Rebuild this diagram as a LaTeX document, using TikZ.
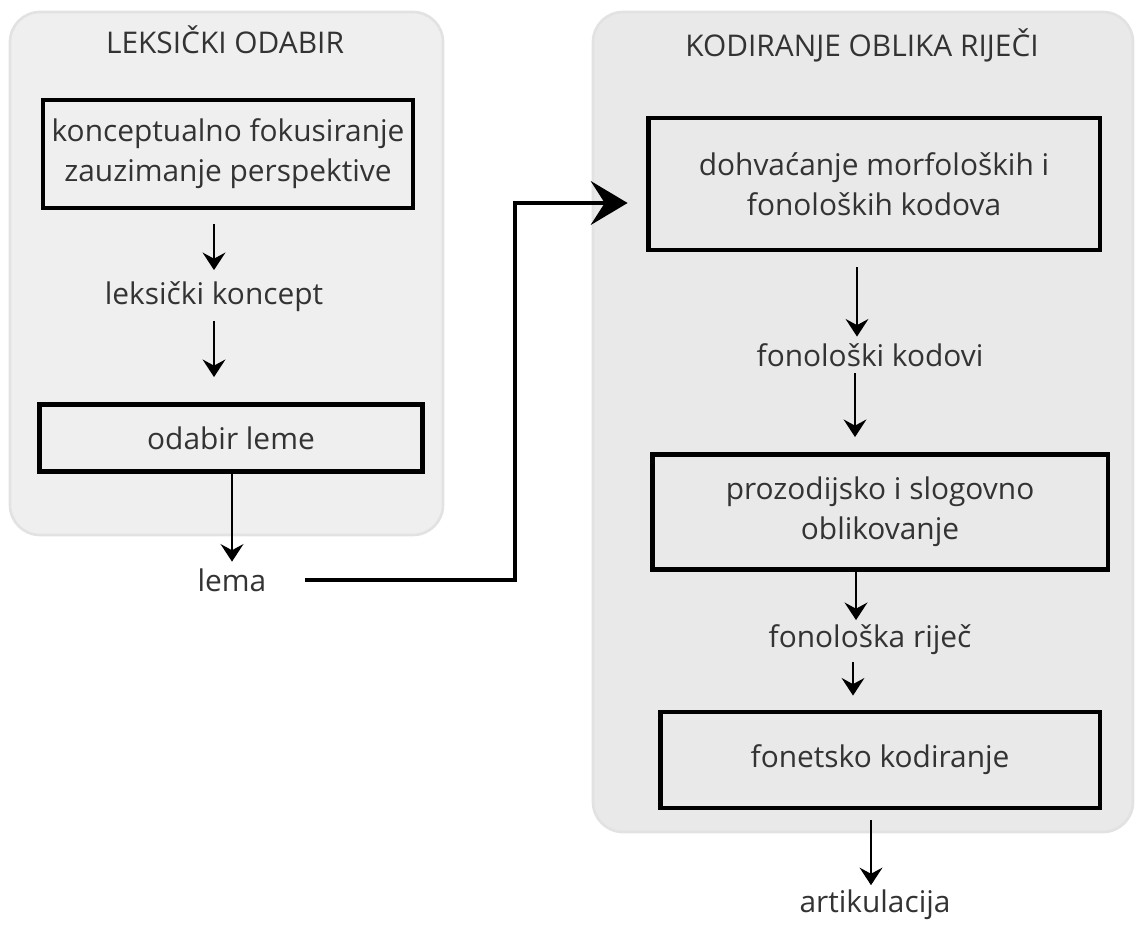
\documentclass[tikz,border=0pt]{standalone}
\usepackage{fontspec}
\setmainfont{Open Sans}
\usetikzlibrary{arrows.meta}
\definecolor{panelgray}{HTML}{EFEFEF}
\definecolor{panelgrayb}{HTML}{E9E9E9}
\definecolor{panelline}{HTML}{E2E2E2}
\definecolor{txtgray}{HTML}{333333}
\tikzset{
	panel/.style={fill=#1, draw=panelline, line width=1.5pt, rounded corners=0.6cm},
	stagebox/.style={draw=black, line width=2.8pt, fill=none, align=center, text=txtgray, inner sep=2pt},
	label/.style={text=txtgray, inner sep=2pt},
	arr/.style={-{Stealth[length=10pt,width=13pt,inset=3.5pt]}, line width=1.1pt},
	bigarr/.style={-{Stealth[length=21pt,width=25pt,inset=8pt]}, line width=1.9pt},
}
\begin{document}
\begin{tikzpicture}[x=0.02cm, y=-0.02cm, font=\fontsize{17}{22.7}\selectfont]
			\useasboundingbox (0,0) rectangle (1135,926);
			% panels
			\draw[panel=panelgray] (10,12) rectangle (443,535);
			\draw[panel=panelgrayb] (593,12) rectangle (1133,832);
			\node[label] (tl) at (225,40){LEKSIČKI ODABIR};
			\node[label] (tr) at (862,45){KODIRANJE OBLIKA RIJEČI};
			
			% left column
			\node[stagebox, minimum width=7.4cm, minimum height=2.16cm] (fok) at (228,154){konceptualno fokusiranje\\zauzimanje perspektive};
			\node[label] (koncept) at (214,297){leksički koncept};
			\node[stagebox, minimum width=7.66cm, minimum height=1.34cm] (odabir) at (231,438){odabir leme};
			\node[label] (lema) at (232,580){lema};
			\draw[arr, shorten <=0.28cm, shorten >=0.16cm] (fok.south -| koncept.north) -- (koncept.north);
			\draw[arr, shorten <=0.1cm, shorten >=0.5cm] (koncept.south) -- (koncept.south |- odabir.north);
			\draw[arr, shorten >=0.06cm] (odabir.south -| lema.north) -- (lema.north);
			
			% right column
			\node[stagebox, minimum width=9.04cm, minimum height=2.64cm] (dohv) at (874,184){dohvaćanje morfoloških i\\fonoloških kodova};
			\node[label] (kodovi) at (870,355){fonološki kodovi};
			\node[stagebox, minimum width=9.12cm, minimum height=2.3cm] (prozod) at (880,512){prozodijsko i slogovno\\oblikovanje};
			\node[label] (rijec) at (870,640){fonološka riječ};
			\node[stagebox, minimum width=8.8cm, minimum height=1.92cm] (fonet) at (880,760){fonetsko kodiranje};
			\node[label] (artik) at (875,905){artikulacija};
			\draw[arr, shorten <=0.3cm, shorten >=0.06cm] ([xshift=-0.34cm]dohv.south) -- ([xshift=-0.34cm]dohv.south |- kodovi.north);
			\draw[arr, shorten <=0.06cm, shorten >=0.3cm] ([xshift=-0.3cm]kodovi.south) -- ([xshift=-0.3cm]kodovi.south |- prozod.north);
			\draw[arr, shorten >=0.02cm] ([xshift=-0.48cm]prozod.south) -- ([xshift=-0.48cm]prozod.south |- rijec.north);
			\draw[arr, shorten <=0.06cm, shorten >=0.28cm] ([xshift=-0.34cm]rijec.south) -- ([xshift=-0.34cm]rijec.south |- fonet.north);
			\draw[arr, shorten <=0.2cm, shorten >=0.02cm] ([xshift=-0.18cm]fonet.south) -- ([xshift=-0.18cm]fonet.south |- artik.north);
			
			% lema to right panel
			\coordinate (bend) at (515,578);
			\draw[bigarr, shorten <=0.7cm, shorten >=0.36cm] (lema.east) -- (lema.east -| bend) |- ([yshift=-0.38cm]dohv.west);
\end{tikzpicture}
\end{document}
